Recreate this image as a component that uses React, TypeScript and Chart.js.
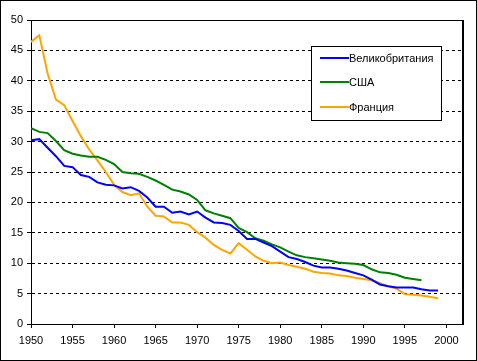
import React, { useEffect, useRef } from "react";
import { Chart, registerables } from "chart.js";

Chart.register(...registerables);

const startYear = 1950;
const yTicks = [0, 5, 10, 15, 20, 25, 30, 35, 40, 45, 50];
const xTickLabels = [1950, 1955, 1960, 1965, 1970, 1975, 1980, 1985, 1990, 1995, 2000];

const seriesNames = ["Великобритания", "США", "Франция"];
const seriesColors = ["#0000FF", "#008000", "#FFA500"];

const ukValues = [
  30.2, 30.4, 29.0, 27.6, 26.0, 25.8, 24.5, 24.2, 23.3, 22.9,
  22.8, 22.3, 22.5, 21.9, 20.8, 19.3, 19.3, 18.3, 18.5, 18.0,
  18.5, 17.5, 16.7, 16.6, 16.3, 15.3, 14.0, 14.0, 13.4, 12.8,
  11.9, 11.0, 10.7, 10.2, 9.6, 9.3, 9.3, 9.1, 8.8, 8.4,
  8.0, 7.3, 6.5, 6.2, 6.0, 6.0, 6.0, 5.7, 5.5, 5.5,
];

const usaValues = [
  32.2, 31.6, 31.4, 30.1, 28.6, 28.0, 27.7, 27.5, 27.5, 27.0,
  26.3, 25.0, 24.8, 24.7, 24.2, 23.6, 22.9, 22.1, 21.8, 21.3,
  20.4, 18.7, 18.2, 17.8, 17.4, 15.8, 15.1, 14.1, 13.7, 13.1,
  12.6, 11.9, 11.3, 11.0, 10.8, 10.6, 10.4, 10.1, 10.0, 9.9,
  9.7, 9.0, 8.5, 8.4, 8.1, 7.6, 7.4, 7.2,
];

const franceValues = [
  46.4, 47.5, 41.2, 36.9, 36.0, 33.4, 30.9, 28.7, 26.9, 25.0,
  22.9, 21.7, 21.2, 21.5, 19.3, 17.8, 17.7, 16.7, 16.7, 16.3,
  15.1, 14.2, 13.0, 12.2, 11.6, 13.3, 12.2, 11.1, 10.4, 10.0,
  10.1, 9.7, 9.4, 9.1, 8.6, 8.4, 8.3, 8.0, 7.9, 7.6,
  7.4, 7.2, 6.7, 6.2, 5.8, 4.9, 4.8, 4.7, 4.5, 4.2,
];

const allSeries = [ukValues, usaValues, franceValues];

const FONT = '"Liberation Sans", Arial, sans-serif';

const frameAndLegend = {
  id: "frameAndLegend",
  beforeDraw(chart: any) {
    const { ctx, width, height } = chart;
    ctx.save();
    ctx.fillStyle = "#ffffff";
    ctx.fillRect(0, 0, width, height);
    ctx.restore();
  },
  afterDraw(chart: any) {
    const { ctx, chartArea } = chart;
    ctx.save();
    ctx.setLineDash([]);
    ctx.fillStyle = "#000000";
    const left = Math.round(chartArea.left);
    const right = Math.round(chartArea.right);
    const top = Math.round(chartArea.top);
    const bottom = Math.round(chartArea.bottom);
    ctx.fillRect(left, top, right - left, 1);
    ctx.fillRect(right - 1, top, 1, bottom - top + 1);
    // outer frame
    ctx.fillRect(0, 0, chart.width, 1);
    ctx.fillRect(0, chart.height - 1, chart.width, 1);
    ctx.fillRect(0, 0, 1, chart.height);
    ctx.fillRect(chart.width - 1, 0, 1, chart.height);

    // legend
    const bx = 311, by = 46, bw = 131, bh = 75;
    ctx.fillStyle = "#ffffff";
    ctx.fillRect(bx, by, bw, bh);
    ctx.fillStyle = "#000000";
    ctx.fillRect(bx, by, bw, 1);
    ctx.fillRect(bx, by + bh - 1, bw, 1);
    ctx.fillRect(bx, by, 1, bh);
    ctx.fillRect(bx + bw - 1, by, 1, bh);
    const rows = [58, 82, 107];
    ctx.font = "11px " + FONT;
    ctx.textBaseline = "middle";
    ctx.textAlign = "left";
    chart.data.datasets.forEach((ds: any, i: number) => {
      const y = rows[i];
      ctx.fillStyle = ds.borderColor;
      ctx.fillRect(320, y - 1, 29, 2);
      ctx.fillStyle = "#000000";
      ctx.fillText(ds.label, 349, y + 0.5);
    });
    ctx.restore();
  },
};

export default function App() {
  const canvasRef = useRef<HTMLCanvasElement | null>(null);

  useEffect(() => {
    document.body.style.margin = "0";
    const canvas = canvasRef.current;
    if (!canvas) return;
    const datasets = allSeries.map((vals, i) => ({
      label: seriesNames[i],
      data: vals.map((v, k) => ({ x: startYear + k, y: v })),
      borderColor: seriesColors[i],
      backgroundColor: seriesColors[i],
      borderWidth: 2,
      pointRadius: 0,
      tension: 0,
      fill: false,
      xAxisID: "x",
      yAxisID: "y",
    }));
    const chart = new Chart(canvas, {
      type: "line",
      data: { datasets },
      plugins: [frameAndLegend],
      options: {
        responsive: false,
        animation: false,
        maintainAspectRatio: false,
        layout: { padding: { top: 20, right: 14, left: 0, bottom: 0 } },
        plugins: { legend: { display: false }, tooltip: { enabled: false } },
        scales: {
          x: {
            type: "linear",
            min: 1950,
            max: 2002,
            afterBuildTicks: (scale: any) => {
              scale.ticks = xTickLabels.map((v) => ({ value: v }));
            },
            afterFit: (scale: any) => {
              scale.height = 37;
            },
            ticks: {
              color: "#000000",
              font: { family: FONT, size: 11 },
              padding: 6,
              maxRotation: 0,
              autoSkip: false,
              callback: (v: any) => String(v),
            },
            grid: { drawOnChartArea: false, drawTicks: true, tickLength: 4, color: "#000000" },
            border: { display: true, color: "#000000", width: 1 },
          },
          xTop: {
            type: "linear",
            position: "top",
            min: 1950,
            max: 2002,
            afterFit: (scale: any) => {
              scale.height = 0;
            },
            ticks: { display: false },
            grid: { display: true, drawOnChartArea: false, drawTicks: false },
            border: { display: true, color: "#000000", width: 1 },
          },
          y: {
            min: 0,
            max: 50,
            afterBuildTicks: (scale: any) => {
              scale.ticks = yTicks.map((v) => ({ value: v }));
            },
            afterFit: (scale: any) => {
              scale.width = 31;
            },
            ticks: {
              color: "#000000",
              font: { family: FONT, size: 11 },
              padding: 4,
              autoSkip: false,
              callback: (v: any) => String(v),
            },
            grid: {
              color: (ctx: any) =>
                ctx.tick && (ctx.tick.value === 0 || ctx.tick.value === 50) ? "rgba(0,0,0,0)" : "#000000",
              tickColor: "#000000",
              lineWidth: 1,
              tickLength: 4,
              drawTicks: true,
            },
            border: { display: true, color: "#000000", width: 1, dash: [3, 3] },
          },
          yRight: {
            position: "right",
            min: 0,
            max: 50,
            afterFit: (scale: any) => {
              scale.width = 0;
            },
            ticks: { display: false },
            grid: { display: true, drawOnChartArea: false, drawTicks: false },
            border: { display: true, color: "#000000", width: 1 },
          },
        },
      },
    });
    return () => chart.destroy();
  }, []);

  return (
    <div style={{ position: "absolute", left: 0, top: 0, width: 477, height: 361 }}>
      <canvas ref={canvasRef} width={477} height={361} style={{ display: "block" }} />
    </div>
  );
}
